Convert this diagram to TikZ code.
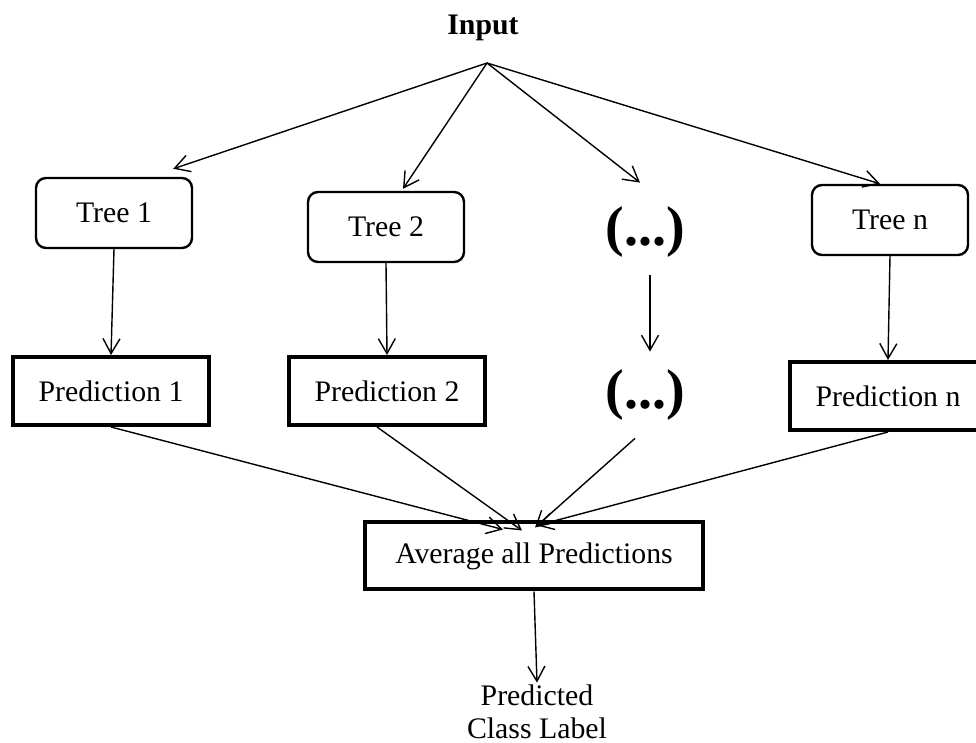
\documentclass[tikz,border=0pt]{standalone}
\usepackage{fontspec}
\setmainfont{Liberation Serif}
\usetikzlibrary{arrows.meta}

\tikzset{
  treebox/.style={draw, rounded corners=5pt, line width=1.2pt, minimum width=78pt, minimum height=35pt},
  predbox/.style={draw, line width=2pt, minimum width=98pt, minimum height=34pt},
  dotsnode/.style={font=\fontsize{28}{30}\selectfont\bfseries, minimum height=43pt, inner sep=0pt},
  arr/.style={-{Straight Barb[length=7.5pt,width=8.5pt]}, line width=0.7pt}
}

\begin{document}
\begin{tikzpicture}[x=0.5pt,y=-0.5pt,font=\fontsize{14.9}{16.5}\selectfont]
          \useasboundingbox (0,0) rectangle (976,743);%
          \node[font=\fontsize{14.9}{16.5}\selectfont\bfseries] (input) at (483,28) {Input};%
          \coordinate (fork) at (487,63);%
 
          \node[treebox] (tree1) at (114,213) {Tree 1};%
          \node[treebox] (tree2) at (386,227) {Tree 2};%
          \node[dotsnode] (dots1) at (645,232) {(...)};%
          \node[treebox] (treen) at (890,220) {Tree n};%
 
          \node[predbox] (pred1) at (111,391) {Prediction 1};%
          \node[predbox] (pred2) at (387,391) {Prediction 2};%
          \node[dotsnode] (dots2) at (645,395) {(...)};%
          \node[predbox] (predn) at (888,396) {Prediction n};%
 
          \node[draw, line width=2pt, minimum width=169pt, minimum height=33.5pt] (avg) at (534,556) {Average all Predictions};%
          \node[align=center, inner sep=1pt] (label) at (537,712) {Predicted\\Class Label};%
 
          \draw[arr] (fork) -- ([shift={(-20,-8)}]tree1.north east);%
          \draw[arr] (fork) -- ([shift={(17,-2)}]tree2.north);%
          \draw[arr] (fork) -- ([shift={(-5,-6)}]dots1.north);%
          \draw[arr] (fork) -- ([shift={(-10,0)}]treen.north);%
 
          \draw[arr] (tree1.south) -- (pred1.north);%
          \draw[arr] (tree2.south) -- (pred2.north);%
          \draw[arr] ([xshift=2.5pt]dots1.south) -- ([xshift=2.5pt]dots2.north);%
          \draw[arr] (treen.south) -- (predn.north);%
 
          \draw[arr] (pred1.south) -- ([shift={(-31,9)}]avg.north);%
          \draw[arr] ([xshift=-5pt]pred2.south) -- ([shift={(-12,10)}]avg.north);%
          \draw[arr] ([xshift=-5pt]dots2.south) -- ([shift={(1,7)}]avg.north);%
          \draw[arr] (predn.south) -- ([shift={(3,5)}]avg.north);%
          \draw[arr] (avg.south) -- (label.north);%
    \end{tikzpicture}
\end{document}
